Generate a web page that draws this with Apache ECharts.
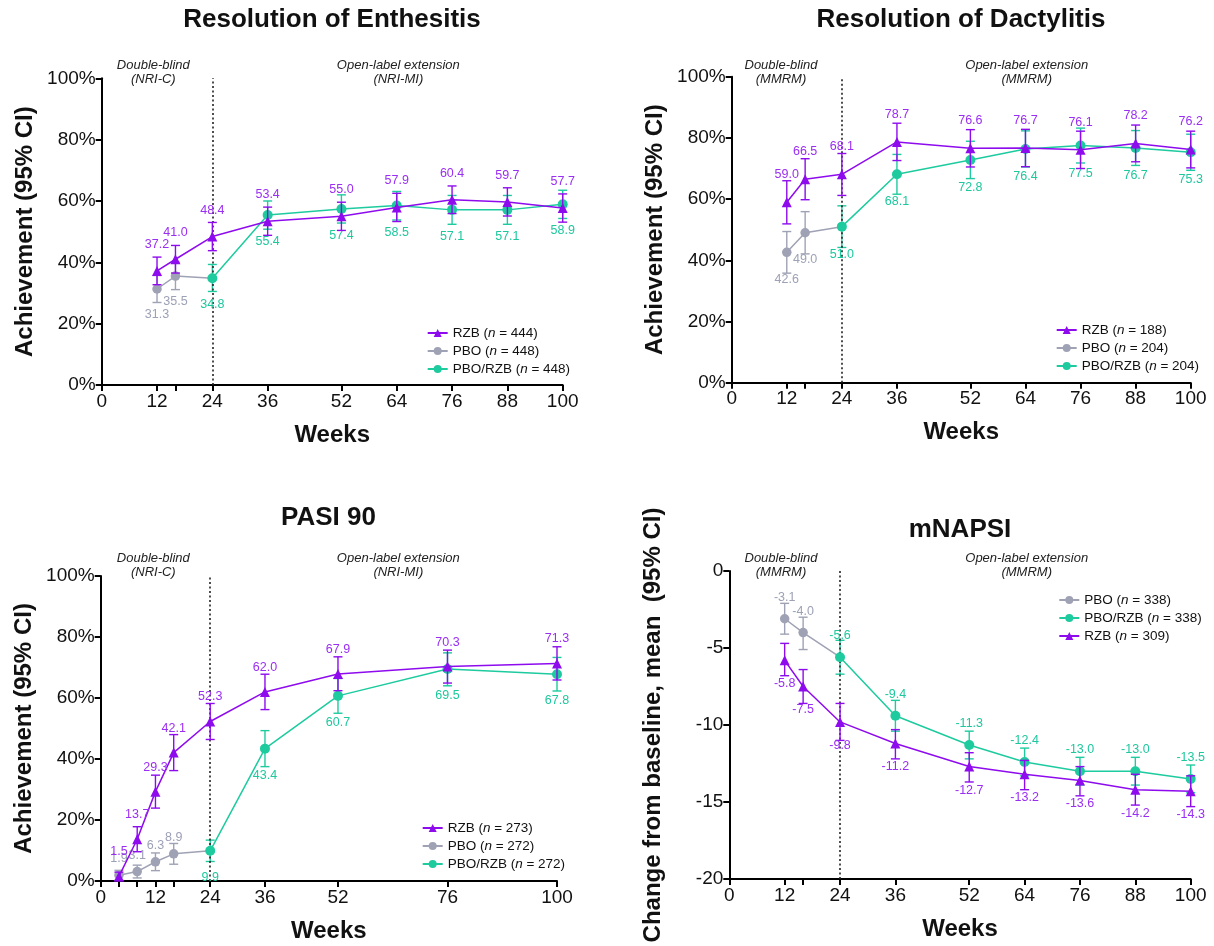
<!DOCTYPE html>
<html>
<head>
<meta charset="utf-8">
<script src="https://cdn.jsdelivr.net/npm/echarts@6/dist/echarts.min.js"></script>
<style>
html,body{margin:0;padding:0;background:#fff;}
#c{width:1214px;height:946px;}
</style>
</head>
<body>
<div id="c"></div>
<script>
// ---------------- DATA ----------------
// Panel 1: Resolution of Enthesitis
const enthRzbWeeks = [12,16,24,36,52,64,76,88,100];
const enthRzb      = [37.2,41.0,48.4,53.4,55.0,57.9,60.4,59.7,57.7];
const enthRzbLo    = [32.7,36.5,43.8,48.8,50.4,53.3,55.9,55.1,53.1];
const enthRzbHi    = [41.7,45.5,53.0,58.0,59.6,62.5,64.9,64.3,62.3];
const enthPboWeeks = [12,16];
const enthPbo      = [31.3,35.5];
const enthPboLo    = [26.9,31.1];
const enthPboHi    = [35.7,40.0];
const enthSwWeeks  = [24,36,52,64,76,88,100];
const enthSw       = [34.8,55.4,57.4,58.5,57.1,57.1,58.9];
const enthSwLo     = [30.5,50.8,52.8,53.8,52.4,52.4,54.3];
const enthSwHi     = [39.3,60.0,62.0,63.1,61.8,61.8,63.5];
const enthN        = {rzb:444, pbo:448, sw:448};

// Panel 2: Resolution of Dactylitis
const dactRzbWeeks = [12,16,24,36,52,64,76,88,100];
const dactRzb      = [59.0,66.5,68.1,78.7,76.6,76.7,76.1,78.2,76.2];
const dactRzbLo    = [51.9,59.8,61.2,72.6,70.5,70.6,70.0,72.2,70.2];
const dactRzbHi    = [66.0,73.2,74.9,84.8,82.7,82.8,82.2,84.2,82.2];
const dactPboWeeks = [12,16];
const dactPbo      = [42.6,49.0];
const dactPboLo    = [35.8,42.1];
const dactPboHi    = [49.4,55.9];
const dactSwWeeks  = [24,36,52,64,76,88,100];
const dactSw       = [51.0,68.1,72.8,76.4,77.5,76.7,75.3];
const dactSwLo     = [44.2,61.6,66.7,70.5,71.8,71.0,69.4];
const dactSwHi     = [57.8,74.6,78.9,82.3,83.2,82.4,81.2];
const dactN        = {rzb:188, pbo:204, sw:204};

// Panel 3: PASI 90
const pasiRzbWeeks = [4,8,12,16,24,36,52,76,100];
const pasiRzb      = [1.5,13.7,29.3,42.1,52.3,62.0,67.9,70.3,71.3];
const pasiRzbLo    = [0.1,9.6,23.9,36.2,46.4,56.2,62.4,64.9,65.9];
const pasiRzbHi    = [2.9,17.8,34.7,48.0,58.2,67.8,73.5,75.7,76.8];
const pasiPboWeeks = [4,8,12,16];
const pasiPbo      = [1.9,3.1,6.3,8.9];
const pasiPboLo    = [0.3,1.0,3.4,5.5];
const pasiPboHi    = [3.5,5.2,9.2,12.3];
const pasiSwWeeks  = [24,36,52,76,100];
const pasiSw       = [9.9,43.4,60.7,69.5,67.8];
const pasiSwLo     = [6.4,37.5,55.0,64.0,62.3];
const pasiSwHi     = [13.4,49.3,66.4,74.8,73.3];
const pasiN        = {rzb:273, pbo:272, sw:272};

// Panel 4: mNAPSI
const napsiRzbWeeks = [12,16,24,36,52,64,76,88,100];
const napsiRzb      = [-5.8,-7.5,-9.8,-11.2,-12.7,-13.2,-13.6,-14.2,-14.3];
const napsiRzbLo    = [-6.8,-8.6,-11.0,-12.2,-13.7,-14.2,-14.6,-15.2,-15.3];
const napsiRzbHi    = [-4.7,-6.4,-8.6,-10.3,-11.8,-12.3,-12.7,-13.2,-13.3];
const napsiPboWeeks = [12,16];
const napsiPbo      = [-3.1,-4.0];
const napsiPboLo    = [-4.1,-5.1];
const napsiPboHi    = [-2.1,-3.0];
const napsiSwWeeks  = [24,36,52,64,76,88,100];
const napsiSw       = [-5.6,-9.4,-11.3,-12.4,-13.0,-13.0,-13.5];
const napsiSwLo     = [-6.7,-10.4,-12.2,-13.3,-13.9,-13.9,-14.4];
const napsiSwHi     = [-4.5,-8.4,-10.4,-11.5,-12.1,-12.1,-12.6];
const napsiN        = {rzb:309, pbo:338, sw:338};

// Axis ticks / labels
const xTicksMain  = [0,12,16,24,36,52,64,76,88,100];
const xLabelsMain = [0,12,24,36,52,64,76,88,100];
const xTicksPasi  = [0,4,8,12,16,24,36,52,76,100];
const xLabelsPasi = [0,12,24,36,52,76,100];
const phaseWeek = 24;

// Text
const titles = ['Resolution of Enthesitis','Resolution of Dactylitis','PASI 90','mNAPSI'];
const yNames = ['Achievement (95% CI)','Achievement (95% CI)','Achievement (95% CI)','Change from baseline, mean  (95% CI)'];
const headersNRI  = [['Double-blind','(NRI-C)'],['Open-label extension','(NRI-MI)']];
const headersMMRM = [['Double-blind','(MMRM)'],['Open-label extension','(MMRM)']];

// ---------------- STYLE / LAYOUT ----------------
const FONT = '"Liberation Sans", Arial, Helvetica, sans-serif';
const C_RZB = '#8E0BEE', C_RZB_T = '#9A2EF3';
const C_PBO = '#9FA2B4', C_PBO_T = '#9DA1B6';
const C_SW  = '#1DCB9F', C_SW_T  = '#1EC89E';

const panels = [
  {grid:{left:101.7, width:461, top:78.3, height:306.7}, title:[332,20], hdr:[[153.3,65],[398.3,65]], headers:headersNRI,
   ymin:0, ymax:100, yint:20, pct:true, xt:xTicksMain, xl:xLabelsMain, legend:[426.7,326], legendOrder:['rzb','pbo','sw'],
   d:{rzb:[enthRzbWeeks,enthRzb,enthRzbLo,enthRzbHi], pbo:[enthPboWeeks,enthPbo,enthPboLo,enthPboHi], sw:[enthSwWeeks,enthSw,enthSwLo,enthSwHi]}, n:enthN,
   lab:{rzb:['top',15], pbo:['bottom',14], sw:['bottom',15]}, nudge:{}},
  {grid:{left:731.7, width:459, top:76.7, height:306}, title:[961,20], hdr:[[781,65],[1026.7,65]], headers:headersMMRM,
   ymin:0, ymax:100, yint:20, pct:true, xt:xTicksMain, xl:xLabelsMain, legend:[1055.7,323], legendOrder:['rzb','pbo','sw'],
   d:{rzb:[dactRzbWeeks,dactRzb,dactRzbLo,dactRzbHi], pbo:[dactPboWeeks,dactPbo,dactPboLo,dactPboHi], sw:[dactSwWeeks,dactSw,dactSwLo,dactSwHi]}, n:dactN,
   lab:{rzb:['top',16], pbo:['bottom',16], sw:['bottom',16]}, nudge:{}},
  {grid:{left:100.7, width:456.3, top:576, height:305}, title:[328.5,518], hdr:[[153.3,558.3],[398.3,558.3]], headers:headersNRI,
   ymin:0, ymax:100, yint:20, pct:true, xt:xTicksPasi, xl:xLabelsPasi, legend:[421.7,821], legendOrder:['rzb','pbo','sw'],
   d:{rzb:[pasiRzbWeeks,pasiRzb,pasiRzbLo,pasiRzbHi], pbo:[pasiPboWeeks,pasiPbo,pasiPboLo,pasiPboHi], sw:[pasiSwWeeks,pasiSw,pasiSwLo,pasiSwHi]}, n:pasiN,
   lab:{rzb:['top',13], pbo:['top',5], sw:['bottom',15]}, nudge:{rzb:{0:[-7,0],1:[-5,5],2:[-2,1]}, pbo:{0:[-6,5],1:[-4,6]}, sw:{0:[0,-10]}}},
  {grid:{left:729.3, width:461.4, top:571, height:308}, title:[960,530], hdr:[[781,558.3],[1026.7,558.3]], headers:headersMMRM,
   ymin:-20, ymax:0, yint:5, pct:false, xt:xTicksMain, xl:xLabelsMain, legend:[1058.3,593], legendOrder:['pbo','sw','rzb'],
   d:{rzb:[napsiRzbWeeks,napsiRzb,napsiRzbLo,napsiRzbHi], pbo:[napsiPboWeeks,napsiPbo,napsiPboLo,napsiPboHi], sw:[napsiSwWeeks,napsiSw,napsiSwLo,napsiSwHi]}, n:napsiN,
   lab:{rzb:['bottom',12], pbo:['top',10], sw:['top',10]}, nudge:{pbo:{0:[-5,0],1:[-3,0]}, rzb:{2:[0,4]}}}
];

const groupStyle = {
  rzb:{name:'RZB', color:C_RZB, tcolor:C_RZB_T, symbol:'triangle', size:10, z:6},
  pbo:{name:'PBO', color:C_PBO, tcolor:C_PBO_T, symbol:'circle', size:9.5, z:2},
  sw: {name:'PBO/RZB', color:C_SW, tcolor:C_SW_T, symbol:'circle', size:10, z:4}
};

function errRender(params, api){
  const x = api.value(0), lo = api.value(1), hi = api.value(2);
  const a = api.coord([x, lo]), b = api.coord([x, hi]);
  const hw = 4.5;
  const st = {stroke: api.visual('color'), lineWidth: 1.4, fill: null};
  return {type:'group', children:[
    {type:'line', shape:{x1:a[0],y1:a[1],x2:b[0],y2:b[1]}, style:st},
    {type:'line', shape:{x1:a[0]-hw,y1:a[1],x2:a[0]+hw,y2:a[1]}, style:st},
    {type:'line', shape:{x1:b[0]-hw,y1:b[1],x2:b[0]+hw,y2:b[1]}, style:st}
  ]};
}

const grids=[], xAxes=[], yAxes=[], series=[], legends=[], graphics=[];

panels.forEach((p, i) => {
  grids.push(Object.assign({containLabel:false}, p.grid));
  xAxes.push({
    type:'value', gridIndex:i, min:0, max:100,
    name:'Weeks', nameLocation:'middle', nameGap:38,
    nameTextStyle:{fontFamily:FONT, fontSize:24, fontWeight:'bold', color:'#111'},
    axisLine:{show:true, onZero:false, lineStyle:{color:'#000', width:2}},
    axisTick:{show:true, length:6, lineStyle:{color:'#000', width:2}, customValues:p.xt},
    axisLabel:{fontFamily:FONT, fontSize:19, color:'#111', margin:7, customValues:p.xl},
    splitLine:{show:false}
  });
  yAxes.push({
    type:'value', gridIndex:i, min:p.ymin, max:p.ymax, interval:p.yint,
    name:yNames[i], nameLocation:'middle', nameGap:64, nameRotate:90,
    nameTextStyle:{fontFamily:FONT, fontSize:24, fontWeight:'bold', color:'#111'},
    axisLine:{show:true, onZero:false, lineStyle:{color:'#000', width:2}},
    axisTick:{show:true, length:6, lineStyle:{color:'#000', width:2}},
    axisLabel:{fontFamily:FONT, fontSize:19, color:'#111', margin:6, formatter: p.pct ? '{value}%' : '{value}'},
    splitLine:{show:false}
  });

  ['pbo','sw','rzb'].forEach(g => {
    const gs = groupStyle[g];
    const [wk, v, lo, hi] = p.d[g];
    const sname = gs.name + ' (n = ' + p.n[g] + ')';
    const nudge = (p.nudge[g] || {});
    const lab = p.lab[g];
    const data = wk.map((w, k) => {
      const item = {value:[w, v[k]]};
      if (nudge[k]) item.label = {offset: nudge[k]};
      return item;
    });
    if (g === 'pbo') {
      const sw = p.d.sw;
      data.push({value:[sw[0][0], sw[1][0]], symbol:'none', label:{show:false}});
    }
    series.push({
      type:'custom', name: sname + ' CI', xAxisIndex:i, yAxisIndex:i,
      renderItem: errRender, itemStyle:{color:gs.color}, z:gs.z,
      encode:{x:0, y:[1,2]}, silent:true,
      data: wk.map((w,k) => [w, lo[k], hi[k]])
    });
    series.push({
      type:'line', name: sname, xAxisIndex:i, yAxisIndex:i, z:gs.z+1,
      symbol:gs.symbol, symbolSize:gs.size, showAllSymbol:true,
      lineStyle:{color:gs.color, width:1.5}, itemStyle:{color:gs.color},
      label:{show:true, position:lab[0], distance:lab[1], color:gs.tcolor, fontFamily:FONT, fontSize:12.5,
             formatter: pr => pr.value[1].toFixed(1)},
      labelLayout:{hideOverlap:false},
      data: data,
      markLine: g === 'rzb' ? {
        silent:true, symbol:['none','none'], label:{show:false},
        lineStyle:{color:'#222', width:1.6, type:[2,2.5]},
        data:[{xAxis: phaseWeek}]
      } : undefined
    });
  });

  legends.push({
    orient:'vertical', left:p.legend[0], top:p.legend[1], padding:0,
    itemWidth:20, itemHeight:10, itemGap:4,
    data: p.legendOrder.map(g => groupStyle[g].name + ' (n = ' + p.n[g] + ')'),
    formatter: name => name.replace('(n =', '({it|n} ='),
    textStyle:{fontFamily:FONT, fontSize:13.5, color:'#111',
      rich:{it:{fontFamily:FONT, fontSize:13.5, fontStyle:'italic', color:'#111'}}},
    selectedMode:false
  });

  graphics.push({type:'text', x:p.title[0], y:p.title[1],
    style:{text:titles[i], font:'bold 26px ' + FONT, fill:'#111', textAlign:'center', textVerticalAlign:'middle'}});
  p.hdr.forEach((h, j) => {
    graphics.push({type:'text', x:h[0], y:h[1],
      style:{text:p.headers[j][0], font:'italic 13px ' + FONT, fill:'#222', textAlign:'center', textVerticalAlign:'middle'}});
    graphics.push({type:'text', x:h[0], y:h[1]+14.3,
      style:{text:p.headers[j][1], font:'italic 13px ' + FONT, fill:'#222', textAlign:'center', textVerticalAlign:'middle'}});
  });
});

const chart = echarts.init(document.getElementById('c'), null, {renderer:'canvas'});
chart.setOption({
  animation:false,
  backgroundColor:'#fff',
  grid:grids, xAxis:xAxes, yAxis:yAxes, series:series, legend:legends,
  graphic:{elements:graphics}
});
</script>
</body>
</html>
